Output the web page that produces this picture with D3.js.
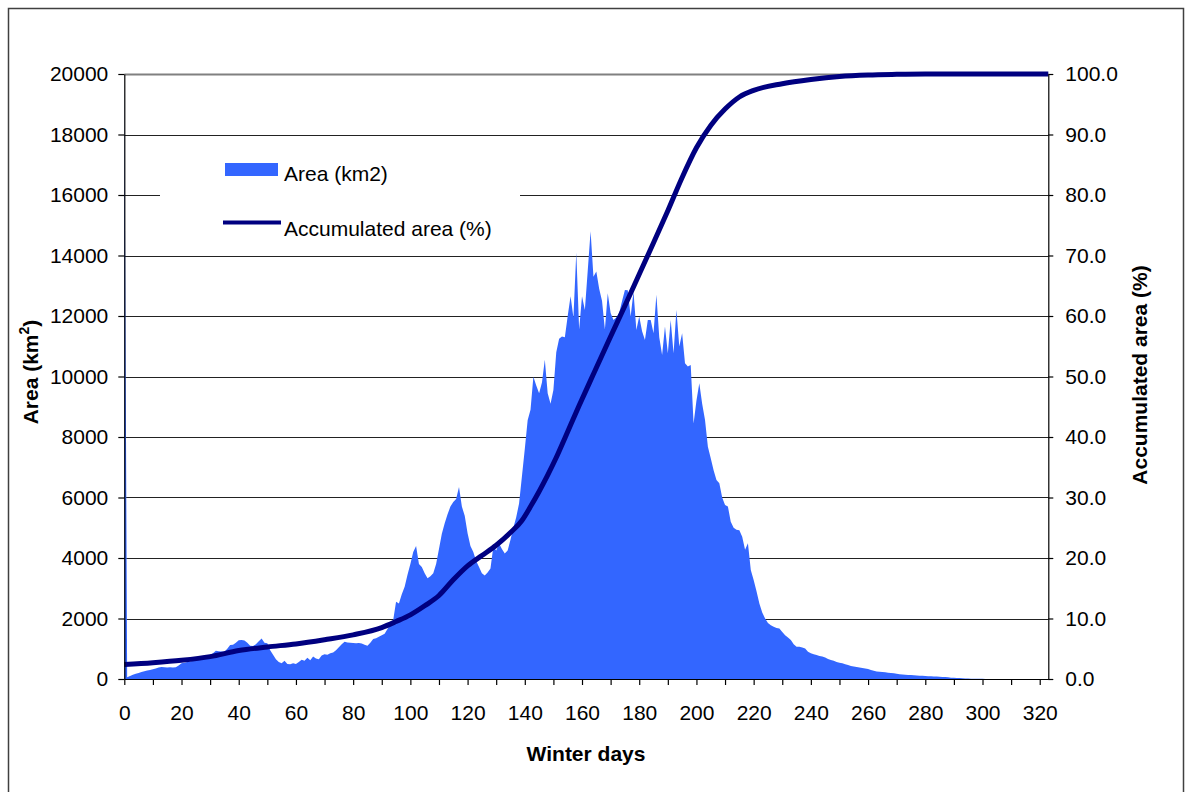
<!DOCTYPE html>
<html><head><meta charset="utf-8">
<script src="https://cdn.jsdelivr.net/npm/d3@7"></script>
<style>
body{margin:0;background:#fff}
text{font-family:"Liberation Sans",Arial,Helvetica,sans-serif}
</style>
</head><body>
<svg id="c" width="1191" height="792"></svg>
<script>
// Daily ice area (km2), winter days 0..323
const areaValues = [
20000,60,100,140,170,200,230,260,280,300,
320,350,380,400,390,380,390,380,390,450,
520,540,560,580,600,630,660,690,720,760,
790,850,930,920,910,900,1000,1120,1130,1200,
1280,1290,1270,1200,1100,1090,1150,1250,1340,1200,
1180,950,800,650,560,520,600,500,490,520,
500,560,640,600,700,620,740,680,650,780,
820,800,850,880,950,1050,1150,1230,1210,1200,
1190,1180,1190,1170,1130,1100,1200,1320,1350,1400,
1450,1500,1650,1800,1950,2550,2500,2800,3050,3450,
3800,4200,4400,3800,3700,3500,3330,3400,3500,3800,
4300,4800,5150,5450,5700,5850,5950,6350,5700,5400,
4820,4400,4200,3900,3700,3500,3420,3520,3650,4370,
4250,4480,4300,4150,4250,4600,5000,5350,5800,6700,
7600,8550,8900,9990,9700,9450,9800,10550,9450,9100,
9550,10800,11250,11320,11300,12000,12650,11950,14100,11550,
12650,12200,13500,14800,13300,13470,12900,12500,11550,12750,
12100,11870,11950,12100,12500,12860,12850,11980,12800,11540,
11980,11500,11210,11870,11870,11430,12700,11300,10710,11650,
10770,11870,10770,12200,10990,11430,10440,10330,10380,8450,
9200,9780,9100,8560,7680,7300,6900,6580,6470,6000,
5750,5700,5200,5000,4930,4920,4700,4270,4490,3600,
3270,2900,2500,2200,2000,1850,1780,1730,1690,1670,
1550,1450,1370,1290,1150,1069,1069,1040,1010,900,
850,820,790,760,740,710,660,630,600,560,
540,520,490,460,430,410,400,380,360,350,
330,300,270,250,240,230,220,210,200,190,
170,160,150,140,135,130,120,115,110,105,
100,95,90,85,80,75,70,65,55,45,
40,35,30,25,20,15,12,10,8,6,
5,4,3,3,2,2,2,1,1,1,
1,1,0,0,0,0,0,0,0,0,
0,0,0,0
];
// Accumulated area (%) read at these days
const accumDays = [0,10,20,30,40,50,60,70,80,90,95,100,105,110,115,120,125,130,135,139,142,145,148,151,154,159,164,170,175,180,185,190,195,200,205,210,215,220,230,240,250,260,270,280,323];
const accumPct  = [2.4,2.7,3.1,3.7,4.7,5.3,5.8,6.5,7.3,8.5,9.5,10.6,12.1,13.8,16.4,18.7,20.4,22.1,24.2,26.2,28.5,31.0,33.7,36.6,39.8,45.2,50.4,56.6,61.7,66.9,72.1,77.4,82.9,87.8,91.5,94.2,96.2,97.3,98.4,99.1,99.6,99.85,99.95,100,100];

const leftTicks = [0,2000,4000,6000,8000,10000,12000,14000,16000,18000,20000];
const rightTicks = [0,10,20,30,40,50,60,70,80,90,100];
const xTicks = [0,10,20,30,40,50,60,70,80,90,100,110,120,130,140,150,160,170,180,190,200,210,220,230,240,250,260,270,280,290,300,310,320];
const xLabelEvery = 20;

const svg = d3.select('#c');
const X0 = 124.3, X1 = 1048.3, YB = 679, YT = 74;
const x = d3.scaleLinear().domain([0, areaValues.length - 1]).range([X0, X1]);
const yL = d3.scaleLinear().domain([0, 20000]).range([YB, YT]);
const yR = d3.scaleLinear().domain([0, 100]).range([YB, YT]);

// outer frame
svg.append('path')
  .attr('d', 'M8.5,800 L8.5,8.5 L1183.5,8.5 L1183.5,800')
  .attr('fill', 'none').attr('stroke', '#404040').attr('stroke-width', 1.5);

// gridlines
svg.append('g').selectAll('line').data(leftTicks.filter(d => d > 0)).join('line')
  .attr('x1', X0).attr('x2', X1)
  .attr('y1', d => Math.round(yL(d)) + 0.5).attr('y2', d => Math.round(yL(d)) + 0.5)
  .attr('stroke', d => d === 20000 ? '#808080' : '#222').attr('stroke-width', d => d === 20000 ? 2 : 1);

// area
svg.append('clipPath').attr('id', 'pc').append('rect')
  .attr('x', X0 - 1).attr('y', YT).attr('width', X1 - X0 + 2).attr('height', YB - YT);
svg.append('path').datum(areaValues)
  .attr('clip-path', 'url(#pc)')
  .attr('fill', '#3366FF')
  .attr('d', d3.area().x((d, i) => x(i)).y0(yL(0)).y1(d => yL(d)));

// legend box (covers gridline)
const lg = svg.append('g');
lg.append('rect').attr('x', 160).attr('y', 148).attr('width', 360).attr('height', 98).attr('fill', '#fff');
lg.append('rect').attr('x', 225).attr('y', 163).attr('width', 53).attr('height', 13).attr('fill', '#3366FF');
lg.append('line').attr('x1', 223).attr('x2', 281).attr('y1', 222.5).attr('y2', 222.5)
  .attr('stroke', '#000080').attr('stroke-width', 4);
lg.append('text').attr('x', 284).attr('y', 181).attr('font-size', 21).text('Area (km2)');
lg.append('text').attr('x', 284).attr('y', 236).attr('font-size', 21).text('Accumulated area (%)');

// accumulated line
svg.append('path').datum(accumPct)
  .attr('fill', 'none').attr('stroke', '#000080').attr('stroke-width', 5)
  .attr('stroke-linejoin', 'round')
  .attr('d', d3.line().x((d, i) => x(accumDays[i])).y(d => yR(d)).curve(d3.curveMonotoneX));

// axes
function styleAxis(g) {
  g.selectAll('path.domain').attr('stroke', '#000').attr('stroke-width', 1.2);
  g.selectAll('.tick line').attr('stroke', '#000').attr('stroke-width', 1.2);
  g.selectAll('text').attr('font-size', 21).attr('fill', '#000')
    .attr('font-family', '"Liberation Sans",Arial,sans-serif');
}
svg.append('g').attr('transform', `translate(${X0},0)`)
  .call(d3.axisLeft(yL).tickValues(leftTicks).tickSize(6).tickSizeOuter(0).tickPadding(10).tickFormat(d => String(d)))
  .call(styleAxis);
svg.append('g').attr('transform', `translate(${X1},0)`)
  .call(d3.axisRight(yR).tickValues(rightTicks).tickSize(5).tickSizeOuter(0).tickPadding(12).tickFormat(d3.format('.1f')))
  .call(styleAxis);
svg.append('g').attr('transform', `translate(0,${YB})`)
  .call(d3.axisBottom(x).tickValues(xTicks).tickSize(6).tickSizeOuter(0).tickPadding(20)
    .tickFormat(d => d % xLabelEvery === 0 ? String(d) : ''))
  .call(styleAxis);

// axis titles
svg.append('text').attr('x', 586).attr('y', 761).attr('text-anchor', 'middle')
  .attr('font-size', 21).attr('font-weight', 'bold').text('Winter days');
const lt = svg.append('text').attr('transform', 'translate(38,372) rotate(-90)')
  .attr('text-anchor', 'middle').attr('font-size', 21).attr('font-weight', 'bold');
lt.append('tspan').text('Area (km');
lt.append('tspan').attr('font-size', 14).attr('dy', -9).text('2');
lt.append('tspan').attr('dy', 9).text(')');
svg.append('text').attr('transform', 'translate(1147,375) rotate(-90)')
  .attr('text-anchor', 'middle').attr('font-size', 21).attr('font-weight', 'bold').text('Accumulated area (%)');
</script>
</body></html>
